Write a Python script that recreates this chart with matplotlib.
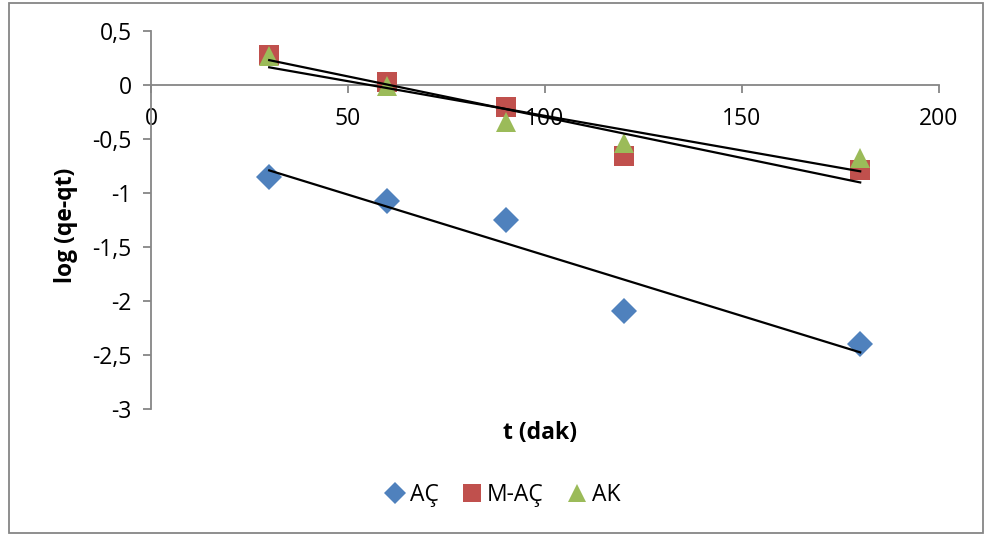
import numpy as np
import matplotlib
matplotlib.use("Agg")
import matplotlib.pyplot as plt
from matplotlib.patches import Rectangle
from matplotlib.lines import Line2D

plt.rcParams['font.family'] = ['Open Sans', 'DejaVu Sans']

# Sampling times (min) and log(qe-qt) for each adsorbent
t = [30, 60, 90, 120, 180]
ac = [-0.85, -1.07, -1.25, -2.09, -2.40]
m_ac = [0.28, 0.03, -0.20, -0.66, -0.79]
ak = [0.27, -0.01, -0.34, -0.54, -0.68]

series_names = ["AÇ", "M-AÇ", "AK"]
colors = ["#4F81BD", "#C0504D", "#9BBB59"]
markers = ["D", "s", "^"]
sizes = [13.5, 14.5, 15]

x_ticks = [0, 50, 100, 150, 200]
y_ticks = [0.5, 0, -0.5, -1, -1.5, -2, -2.5, -3]

FS = 16.5

fig = plt.figure(figsize=(9.87, 5.36), dpi=100)
ax = fig.add_axes([151/987, 1-409/536, (939-151)/987, (409-31)/536])

tx = np.array(t, dtype=float)
for vals, name, c, m, s in zip([ac, m_ac, ak], series_names, colors, markers, sizes):
    ax.plot(tx, vals, linestyle="none", marker=m, color=c, markersize=s,
            markeredgewidth=0, zorder=3, label=name)
for vals in [ac, m_ac, ak]:
    k, b = np.polyfit(tx, vals, 1)
    xs = np.array([tx.min(), tx.max()])
    ax.plot(xs, k*xs + b, color="black", linewidth=1.6, zorder=4)

ax.set_xlim(0, 200)
ax.set_ylim(-3, 0.5)
ax.set_xticks(x_ticks)
ax.set_yticks(y_ticks)
ax.set_xticklabels([str(v) for v in x_ticks])
ax.set_yticklabels([("%g" % v).replace(".", ",") for v in y_ticks])

ax.spines['top'].set_visible(False)
ax.spines['right'].set_visible(False)
ax.spines['bottom'].set_position(('data', 0))
for sp in ['left', 'bottom']:
    ax.spines[sp].set_color("#868686")
    ax.spines[sp].set_linewidth(1.3)
ax.tick_params(axis='both', colors="#868686", labelcolor="black",
               labelsize=FS, width=1.3, length=6, direction='out')
ax.tick_params(axis='x', pad=10)
ax.tick_params(axis='y', pad=8)

fig.text(540/987, 1-433/536, "t (dak)", ha="center", va="center",
         fontsize=FS, fontweight="bold")
fig.text(66/987, 1-225/536, "log (qe-qt)", ha="center", va="center",
         fontsize=FS, fontweight="bold", rotation=90)

handles = [Line2D([], [], linestyle="none", marker=m, color=c, markersize=s*0.85,
                  markeredgewidth=0) for c, m, s in zip(colors, markers, sizes)]
fig.legend(handles, series_names, loc="center", bbox_to_anchor=(500/987, 1-495/536),
           ncol=3, frameon=False, fontsize=FS, handletextpad=0.0,
           columnspacing=0.8, handlelength=1.3)

fig.patches.append(Rectangle((9/987, 1-533/536), (983-9)/987, (533-3)/536,
                             transform=fig.transFigure, fill=False,
                             edgecolor="#868686", linewidth=1.3))

fig.savefig("out.png", dpi=100)
